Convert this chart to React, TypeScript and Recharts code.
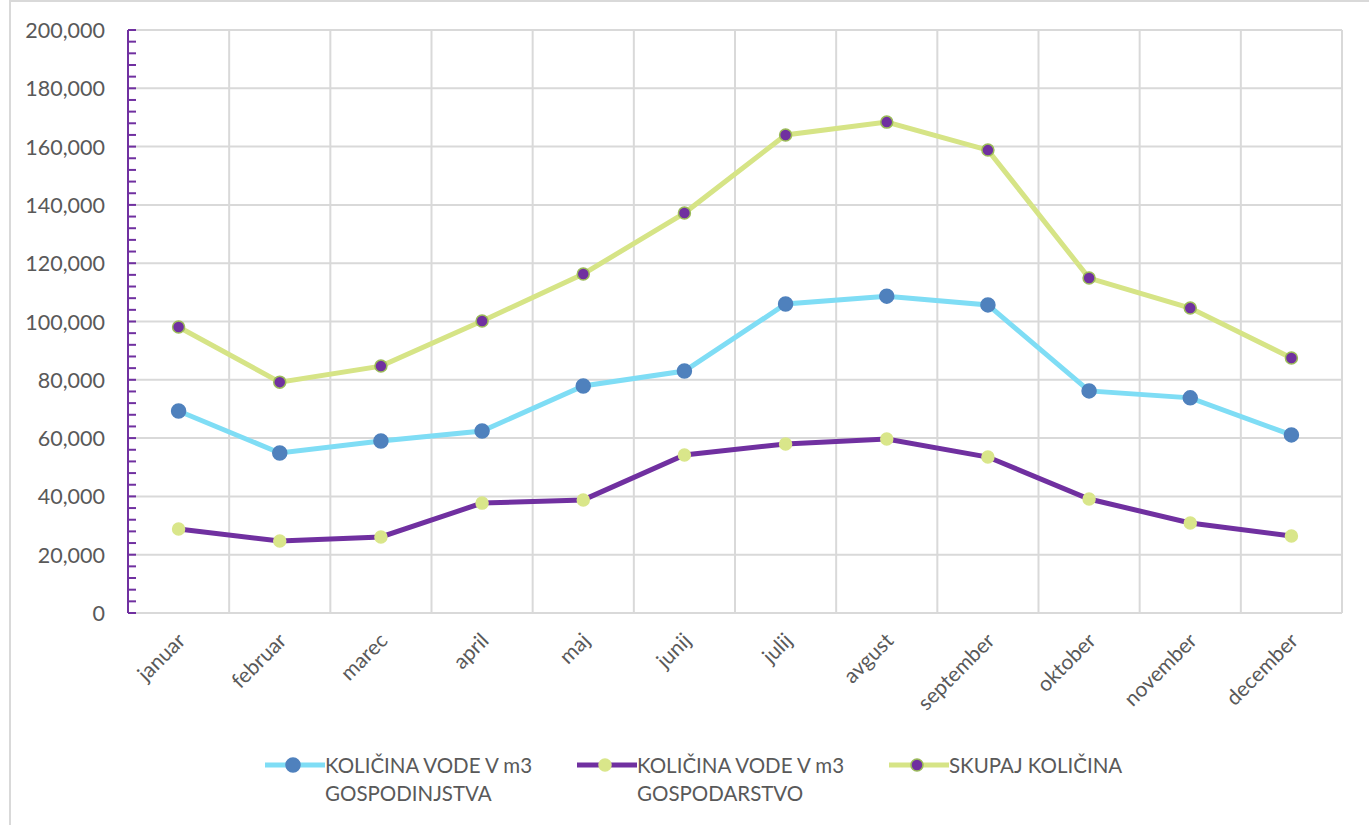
import React from 'react';
import { LineChart, Line, XAxis, YAxis, CartesianGrid } from 'recharts';

const months = ['januar', 'februar', 'marec', 'april', 'maj', 'junij', 'julij', 'avgust', 'september', 'oktober', 'november', 'december'];
const gospodinjstva = [69300, 54900, 59000, 62400, 77900, 83000, 106000, 108700, 105700, 76200, 73800, 61100];
const gospodarstvo = [28800, 24700, 26100, 37700, 38800, 54200, 58000, 59700, 53500, 39100, 30900, 26400];
const skupaj = [98100, 79200, 84700, 100200, 116300, 137200, 164000, 168400, 158800, 114900, 104600, 87500];
const yMajorTicks = [0, 20000, 40000, 60000, 80000, 100000, 120000, 140000, 160000, 180000, 200000];
const yMinorStep = 4000;
const yMax = 200000;

const seriesNames = ['KOLIČINA VODE V m3 GOSPODINJSTVA', 'KOLIČINA VODE V m3 GOSPODARSTVO', 'SKUPAJ KOLIČINA'];

const data = months.map((m, i) => ({
  month: m,
  gospodinjstva: gospodinjstva[i],
  gospodarstvo: gospodarstvo[i],
  skupaj: skupaj[i],
}));

const yAllTicks: number[] = [];
for (let v = 0; v <= yMax; v += yMinorStep) yAllTicks.push(v);
const boundaries = months.map((_, i) => i).concat([months.length]);
const bandCenter = (d: any) => months.indexOf(d.month) + 0.5;

const FONT = 'Lato, "Open Sans", sans-serif';
const TEXT = '#595959';
const PURPLE = '#7030A0';
const CYAN = '#7FDDF5';
const BLUE = '#4F81BD';
const LIME = '#D6E486';
const LIME_DOT = '#D9E68A';
const OLIVE = '#9BBB59';

const series = [
  { key: 'gospodinjstva', name: seriesNames[0], stroke: CYAN, dotFill: BLUE, dotStroke: BLUE, r: 7 },
  { key: 'gospodarstvo', name: seriesNames[1], stroke: PURPLE, dotFill: LIME_DOT, dotStroke: LIME_DOT, r: 6 },
  { key: 'skupaj', name: seriesNames[2], stroke: LIME, dotFill: PURPLE, dotStroke: OLIVE, r: 6 },
];

const fmt = (v: number) => v.toLocaleString('en-US');

const YTick = (props: any) => {
  const { x, y, payload } = props;
  const v = payload.value as number;
  const major = v % 20000 === 0;
  return (
    <g>
      <line x1={x} x2={x + 8} y1={y} y2={y} stroke={PURPLE} strokeWidth={2} />
      {major && (
        <text x={x - 23} y={y} textAnchor="end" dominantBaseline="central" fill={TEXT} fontSize={21.5} fontFamily={FONT}>
          {fmt(v)}
        </text>
      )}
    </g>
  );
};

const XTick = (props: any) => {
  const { x, y, payload } = props;
  const ax = x + 8;
  const ay = y + 29;
  return (
    <text x={ax} y={ay} textAnchor="end" fill={TEXT} fontSize={21} fontFamily={FONT} transform={`rotate(-45 ${ax} ${ay})`}>
      {payload.value}
    </text>
  );
};

export default function App() {
  return (
    <div style={{ position: 'absolute', left: 0, top: 0, width: 1369, height: 825, overflow: 'hidden', background: '#fff' }}>
      <div style={{ position: 'absolute', left: 9, top: 0, width: 1400, height: 900, border: '2px solid #D9D9D9', boxSizing: 'border-box' }} />
      <div style={{ position: 'absolute', left: 0, top: 0 }}>
        <LineChart width={1369} height={825} data={data} margin={{ top: 30, right: 27, left: 0, bottom: 0 }}>
          <XAxis xAxisId="grid" type="number" dataKey={bandCenter} domain={[0, months.length]} ticks={boundaries} hide allowDataOverflow />
          <CartesianGrid xAxisId="grid" stroke="#D9D9D9" strokeWidth={2} horizontalValues={yMajorTicks} verticalValues={boundaries} />
          <XAxis dataKey="month" scale="band" axisLine={false} tickLine={false} tickSize={0} tickMargin={0} height={212} interval={0} tick={<XTick />} />
          <YAxis
            domain={[0, yMax]}
            ticks={yAllTicks}
            interval={0}
            width={128}
            tickLine={false}
            tickSize={0}
            tickMargin={0}
            axisLine={{ stroke: PURPLE, strokeWidth: 2 }}
            tick={<YTick />}
          />
          {series.map((s) => (
            <Line
              key={s.key}
              type="linear"
              dataKey={s.key}
              name={s.name}
              stroke={s.stroke}
              strokeWidth={5}
              dot={{ r: s.r, fill: s.dotFill, stroke: s.dotStroke, strokeWidth: 1.5, fillOpacity: 1 }}
              activeDot={false}
              isAnimationActive={false}
            />
          ))}
        </LineChart>
      </div>
      <div style={{ position: 'absolute', left: 265, top: 751, display: 'flex', fontFamily: FONT, fontSize: 20.5, color: TEXT, lineHeight: '28px' }}>
        {series.map((s) => (
          <div key={s.key} style={{ display: 'flex', alignItems: 'flex-start', width: 312 }}>
            <svg width={60} height={28} style={{ flex: 'none' }}>
              <line x1={0} x2={60} y1={14} y2={14} stroke={s.stroke} strokeWidth={5} />
              <circle cx={28} cy={14} r={s.r} fill={s.dotFill} stroke={s.dotStroke} strokeWidth={1.5} />
            </svg>
            <div style={{ width: 225 }}>{s.name}</div>
          </div>
        ))}
      </div>
    </div>
  );
}
